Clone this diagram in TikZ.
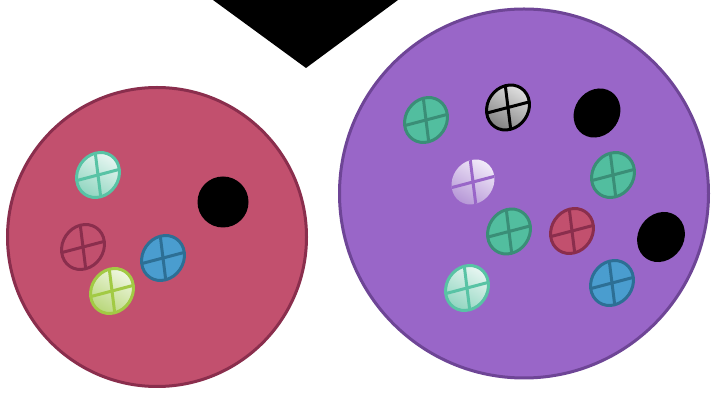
\documentclass[tikz,border=0pt]{standalone}
\usetikzlibrary{shapes.geometric}
\definecolor{lfill}{HTML}{C2506E}
\definecolor{lline}{HTML}{8A2E4D}
\definecolor{rfill}{HTML}{9966C8}
\definecolor{rline}{HTML}{6E4596}
\definecolor{mintA}{HTML}{EAF7F3}
\definecolor{mintB}{HTML}{8ED5BF}
\definecolor{mintL}{HTML}{58C3A5}
\definecolor{grnF}{HTML}{52BE9F}
\definecolor{grnL}{HTML}{3A8E77}
\definecolor{bluF}{HTML}{4A9DCF}
\definecolor{bluL}{HTML}{2D6F95}
\definecolor{lgA}{HTML}{F1F8E4}
\definecolor{lgB}{HTML}{B7D678}
\definecolor{lgL}{HTML}{A2CA44}
\definecolor{gyA}{HTML}{E2E2E2}
\definecolor{gyB}{HTML}{808080}
\definecolor{lpA}{HTML}{F3ECFA}
\definecolor{lpB}{HTML}{B596D6}
\tikzset{
  x=1pt,y=1pt,
  skew/.style={cm={0.968,0.254,-0.123,0.99,(0,0)}},
  pics/cell/.style n args={3}{code={
    \begin{scope}[skew]
      \path[#1] (0,0) circle (22);
      \begin{scope}
        \clip (0,0) circle (22);
        \draw[#3,line width=3pt] (-24,0) -- (24,0) (0,-24) -- (0,24);
      \end{scope}
      \draw[#2,line width=3pt] (0,0) circle (22);
    \end{scope}
  }},
  pics/blob/.style={code={
    \fill[black,skew] (0,0) circle (#1);
  }},
  bigcirc/.style={line width=3pt},
}
\begin{document}
\begin{tikzpicture}
\useasboundingbox (0,0) rectangle (712,393);
% triangle
\fill[black] (213,393) coordinate (t1) -- (398,393) coordinate (t2) -- (306,325) coordinate (t3) -- cycle;
% big circles
\draw[bigcirc,fill=lfill,draw=lline] (157,156) circle (149.5);
\draw[bigcirc,fill=rfill,draw=rline] (524,199.5) circle (184.5);
% left circle content
\pic at (98,218) {cell={top color=mintA,bottom color=mintB,shading angle=-30}{mintL}{mintL}};
\pic at (83,146) {cell={fill=none}{lline}{lline}};
\pic at (163,135) {cell={fill=bluF}{bluL}{bluL}};
\pic at (112,102) {cell={top color=lgA,bottom color=lgB,shading angle=-30}{lgL}{lgL}};
\fill[black] (223,191) circle (25.5);
% right circle content
\pic at (426,273) {cell={fill=grnF}{grnL}{grnL}};
\pic at (508,285.5) {cell={top color=gyA,bottom color=gyB,shading angle=-30}{black}{black}};
\pic at (473,211) {cell={top color=lpA,bottom color=lpB,shading angle=-30}{draw=none}{rfill}};
\pic at (613,218) {cell={fill=grnF}{grnL}{grnL}};
\pic at (509,161.5) {cell={fill=grnF}{grnL}{grnL}};
\pic at (572,162) {cell={fill=lfill}{lline}{lline}};
\pic at (467,105) {cell={top color=mintA,bottom color=mintB,shading angle=-30}{mintL}{mintL}};
\pic at (612,110) {cell={fill=bluF}{bluL}{bluL}};
\pic at (597,280) {blob=24};
\pic at (661,156) {blob=24.5};
\end{tikzpicture}
\end{document}
